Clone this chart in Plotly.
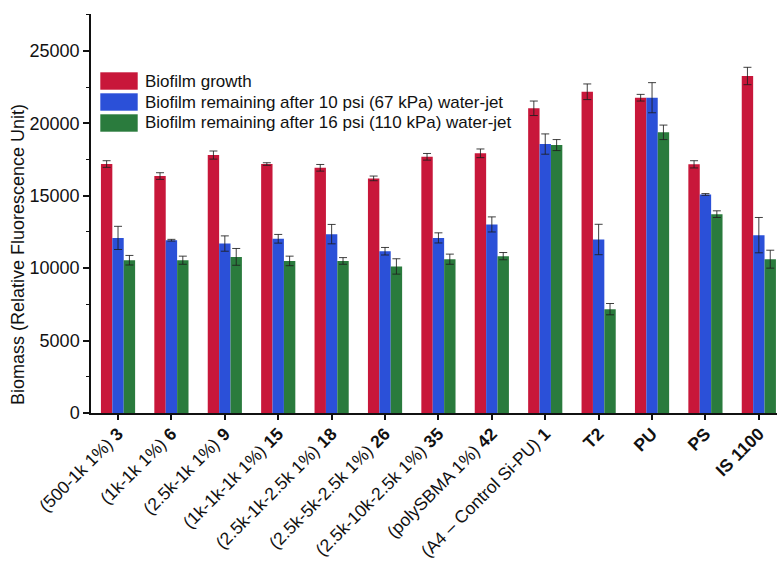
import plotly.graph_objects as go

# Sample names (composition in parentheses, sample number in bold)
compositions = ["(500-1k 1%)", "(1k-1k 1%)", "(2.5k-1k 1%)", "(1k-1k-1k 1%)",
                "(2.5k-1k-2.5k 1%)", "(2.5k-5k-2.5k 1%)", "(2.5k-10k-2.5k 1%)",
                "(polySBMA 1%)", "(A4 \u2013 Control Si-PU)", "", "", "", ""]
sample_ids = ["3", "6", "9", "15", "18", "26", "35", "42", "1",
              "T2", "PU", "PS", "IS 1100"]

# Biomass (relative fluorescence units) and standard deviations
growth = [17190, 16360, 17810, 17190, 16930, 16200, 17690, 17930,
          21040, 22180, 21770, 17170, 23270]
growth_err = [230, 230, 280, 90, 230, 160, 230, 300, 500, 540, 230, 250, 600]

after_10psi = [12090, 11930, 11700, 12030, 12350, 11170, 12090, 13020,
               18570, 11980, 21770, 15090, 12280]
after_10psi_err = [800, 60, 530, 300, 670, 260, 350, 520, 700, 1050, 1040, 60, 1220]

after_16psi = [10550, 10550, 10780, 10500, 10500, 10120, 10620, 10830,
               18500, 7170, 19380, 13730, 10620]
after_16psi_err = [330, 280, 580, 330, 230, 530, 350, 250, 380, 390, 500, 230, 620]

series_names = ["Biofilm growth",
                "Biofilm remaining after 10 psi (67 kPa) water-jet",
                "Biofilm remaining after 16 psi (110 kPa) water-jet"]
colors = ["#C8173A", "#2B50D8", "#2A7B3D"]

categories = list(range(len(sample_ids)))
tick_text = [(c + " " if c else "") + "<b>" + s + "</b>"
             for c, s in zip(compositions, sample_ids)]

FONT = "Liberation Sans, Arial, sans-serif"

fig = go.Figure()
for name, vals, errs, col in zip(series_names,
                                 [growth, after_10psi, after_16psi],
                                 [growth_err, after_10psi_err, after_16psi_err],
                                 colors):
    fig.add_trace(go.Bar(
        x=categories, y=vals, name=name,
        marker=dict(color=col, line=dict(width=0)),
        error_y=dict(type="data", array=errs, visible=True,
                     color="rgba(30,30,30,0.85)", thickness=1, width=4),
        showlegend=False,
    ))

# Plot-area geometry in pixels (used for the legend and axis title placement)
plot_left, plot_top, plot_w, plot_h = 91, 14, 686, 399

# Legend drawn as swatches and labels in the upper-left of the plot
legend_font = dict(family=FONT, size=17, color="#111")
swatch_rows = [(72, 90), (93, 111), (114, 132)]
for (y0, y1), name, col in zip(swatch_rows, series_names, colors):
    fy0 = 1 - (y0 - plot_top) / plot_h
    fy1 = 1 - (y1 - plot_top) / plot_h
    fig.add_shape(type="rect", xref="paper", yref="paper",
                  x0=(100 - plot_left) / plot_w, x1=(138 - plot_left) / plot_w,
                  y0=fy1, y1=fy0,
                  fillcolor=col, line=dict(color="rgba(255,255,255,0.6)", width=1))
    fig.add_annotation(xref="paper", yref="paper", x=(143 - plot_left) / plot_w,
                       y=(fy0 + fy1) / 2, text=name, showarrow=False,
                       xanchor="left", yanchor="middle", font=legend_font)

# Y-axis title
fig.add_annotation(xref="paper", yref="paper",
                   x=(18 - plot_left) / plot_w, y=1 - (255 - plot_top) / plot_h,
                   text="Biomass (Relative Fluorescence Unit)", textangle=-90,
                   showarrow=False, xanchor="center", yanchor="middle",
                   font=dict(family=FONT, size=18, color="#111"))

fig.update_layout(
    width=777, height=564,
    margin=dict(l=plot_left, r=0, t=plot_top, b=564 - plot_top - plot_h),
    paper_bgcolor="white", plot_bgcolor="white",
    barmode="group", bargap=0.36, bargroupgap=0,
    font=dict(family=FONT, size=16, color="#111"),
    xaxis=dict(
        range=[-0.506, 12.34], tickmode="array", tickvals=categories,
        ticktext=tick_text, tickangle=-45, showgrid=False, zeroline=False,
        showline=True, linecolor="#111", linewidth=1.5, automargin=False,
        ticks="outside", ticklen=5, tickcolor="#111", tickwidth=1.5,
        ticklabelstandoff=-3,
        tickfont=dict(family=FONT, size=17.5, color="#111"),
    ),
    yaxis=dict(
        range=[0, 27550], tickvals=[0, 5000, 10000, 15000, 20000, 25000],
        ticktext=["0", "5000", "10000", "15000", "20000", "25000"],
        showgrid=False, zeroline=False, showline=True, linecolor="#111",
        linewidth=1.5, ticks="outside", ticklen=6, tickcolor="#111", tickwidth=1.5,
        automargin=False,
        minor=dict(tickvals=[2500, 7500, 12500, 17500, 22500, 27500],
                   ticks="outside", ticklen=3, tickcolor="#111", tickwidth=1),
        tickfont=dict(family=FONT, size=18, color="#111"),
    ),
)

fig.write_html("out.html")
